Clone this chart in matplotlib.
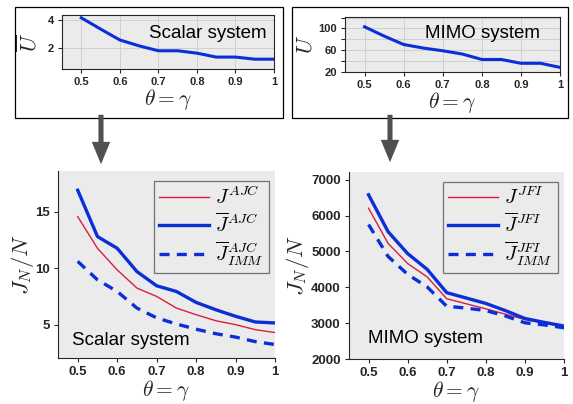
import numpy as np
import matplotlib
matplotlib.use("Agg")
import matplotlib.pyplot as plt
from matplotlib.patches import Rectangle, FancyArrowPatch

# ---- data ----
theta = [0.5, 0.55, 0.6, 0.65, 0.7, 0.75, 0.8, 0.85, 0.9, 0.95, 1.0]

U_scalar = [4.15, 3.35, 2.57, 2.15, 1.8, 1.8, 1.63, 1.35, 1.35, 1.2, 1.2]
U_mimo = [103, 86, 70.5, 64, 59, 53, 43, 43, 36, 36, 28.5]

J_ajc = [14.56, 11.76, 9.85, 8.24, 7.5, 6.47, 5.88, 5.35, 5.0, 4.56, 4.3]
Jbar_ajc = [16.9, 12.8, 11.76, 9.7, 8.44, 7.94, 6.97, 6.32, 5.74, 5.24, 5.15]
Jbar_ajc_imm = [10.6, 8.97, 7.94, 6.47, 5.6, 5.06, 4.6, 4.2, 3.9, 3.5, 3.24]

J_jfi = [6205, 5224, 4663, 4290, 3680, 3540, 3400, 3250, 3100, 3000, 2900]
Jbar_jfi = [6580, 5550, 4940, 4500, 3850, 3700, 3550, 3350, 3130, 3020, 2920]
Jbar_jfi_imm = [5750, 4860, 4360, 4010, 3470, 3420, 3350, 3200, 3010, 2950, 2870]

x_ticks = [0.5, 0.6, 0.7, 0.8, 0.9, 1.0]
x_ticklabels = ["0.5", "0.6", "0.7", "0.8", "0.9", "1"]

BG = "#ebebeb"
AXC = "#262626"
RED = "#d81e3c"
BLUE = "#0a2fd8"

plt.rcParams["mathtext.fontset"] = "cm"
plt.rcParams["font.family"] = ["Liberation Sans", "DejaVu Sans"]

W, H = 573, 404
fig = plt.figure(figsize=(W / 100, H / 100), dpi=100)


def px_axes(left, right, top, bottom):
    return fig.add_axes([left / W, 1 - bottom / H, (right - left) / W, (bottom - top) / H])


def style(ax, box, tsize):
    ax.set_facecolor(BG)
    for s in ax.spines.values():
        s.set_color(AXC)
        s.set_linewidth(0.8)
    if not box:
        ax.spines["top"].set_visible(False)
        ax.spines["right"].set_visible(False)
    ax.set_xlim(0.45, 1.0)
    ax.set_xticks(x_ticks)
    ax.set_xticklabels(x_ticklabels)
    ax.tick_params(colors=AXC, labelsize=tsize, length=3, width=0.8, direction="out",
                   top=False, right=False, pad=3)
    ax.set_xlabel(r"$\theta = \gamma$", fontsize=15.5, color=AXC, labelpad=0)


def bold_ticks(ax):
    for lab in ax.get_xticklabels() + ax.get_yticklabels():
        lab.set_fontweight("bold")


# frames around the top panels
for (l, r) in [(15, 283), (292, 568)]:
    fig.add_artist(Rectangle((l / W, 1 - 118 / H), (r - l) / W, 111 / H,
                             transform=fig.transFigure, fill=False,
                             edgecolor="black", lw=0.9))

# top-left: scalar U
ax1 = px_axes(62, 274, 15, 69)
ax1.plot(theta, U_scalar, color=BLUE, lw=2.2)
style(ax1, True, 8)
ax1.set_ylim(0.5, 4.35)
ax1.set_yticks([2, 4])
bold_ticks(ax1)
ax1.grid(True, color="#d0d0d0", lw=0.7)
ax1.set_axisbelow(True)
ax1.set_ylabel(r"$\overline{U}$", fontsize=16, color=AXC, labelpad=4)
ax1.text(0.967, 0.66, "Scalar system", transform=ax1.transAxes,
         ha="right", va="center", fontsize=13.5)

# top-right: MIMO U
ax2 = px_axes(345, 560, 17, 72)
ax2.plot(theta, U_mimo, color=BLUE, lw=2.2)
style(ax2, True, 8)
ax2.set_ylim(20, 121)
ax2.set_yticks([20, 40, 60, 80, 100, 120])
ax2.set_yticklabels(["20", "", "60", "", "100", ""])
bold_ticks(ax2)
ax2.grid(True, color="#d0d0d0", lw=0.7)
ax2.set_axisbelow(True)
ax2.set_ylabel(r"$\overline{U}$", fontsize=16, color=AXC, labelpad=0)
ax2.text(0.372, 0.70, "MIMO system", transform=ax2.transAxes,
         ha="left", va="center", fontsize=13.5)

legend_kw = dict(loc="upper right", bbox_to_anchor=(0.972, 0.947), fontsize=14.5,
                 frameon=True, fancybox=False, facecolor=BG, edgecolor="#555555",
                 handlelength=2.5, handletextpad=0.3, borderpad=0.25,
                 labelspacing=0.2, borderaxespad=0)

# bottom-left: scalar cost
ax3 = px_axes(58, 275, 171, 358)
ax3.plot(theta, J_ajc, color=RED, lw=1.0, label=r"$J^{AJC}$")
ax3.plot(theta, Jbar_ajc, color=BLUE, lw=2.4, label=r"$\overline{J}^{AJC}$")
ax3.plot(theta, Jbar_ajc_imm, color=BLUE, lw=2.4, ls=(0, (3, 2.2)),
         label=r"$\overline{J}^{AJC}_{IMM}$")
style(ax3, False, 9.5)
ax3.set_ylim(2.05, 18.6)
ax3.set_yticks([5, 10, 15])
bold_ticks(ax3)
ax3.set_ylabel(r"$J_N/N$", fontsize=16.5, color=AXC, labelpad=-1)
ax3.text(0.065, 0.096, "Scalar system", transform=ax3.transAxes,
         ha="left", va="center", fontsize=13.5)
leg3 = ax3.legend(**legend_kw)
leg3.get_frame().set_linewidth(0.9)

# bottom-right: MIMO cost
ax4 = px_axes(349, 564, 172, 359)
ax4.plot(theta, J_jfi, color=RED, lw=1.0, label=r"$J^{JFI}$")
ax4.plot(theta, Jbar_jfi, color=BLUE, lw=2.4, label=r"$\overline{J}^{JFI}$")
ax4.plot(theta, Jbar_jfi_imm, color=BLUE, lw=2.4, ls=(0, (3, 2.2)),
         label=r"$\overline{J}^{JFI}_{IMM}$")
style(ax4, False, 9.5)
ax4.set_ylim(2000, 7215)
ax4.set_yticks([2000, 3000, 4000, 5000, 6000, 7000])
bold_ticks(ax4)
ax4.set_ylabel(r"$J_N/N$", fontsize=16.5, color=AXC, labelpad=0)
ax4.text(0.088, 0.112, "MIMO system", transform=ax4.transAxes,
         ha="left", va="center", fontsize=13.5)
leg4 = ax4.legend(**legend_kw)
leg4.get_frame().set_linewidth(0.9)

# arrows from the top panels down to the bottom panels
for (x, y0, y1) in [(101, 112, 167), (390, 112, 165)]:
    fig.add_artist(FancyArrowPatch((x / W, 1 - y0 / H), (x / W, 1 - y1 / H),
                                   transform=fig.transFigure,
                                   arrowstyle="simple,head_length=1.15,head_width=0.95,tail_width=0.26",
                                   mutation_scale=14, color="#505050", lw=0))

fig.savefig("out.png", dpi=100)
